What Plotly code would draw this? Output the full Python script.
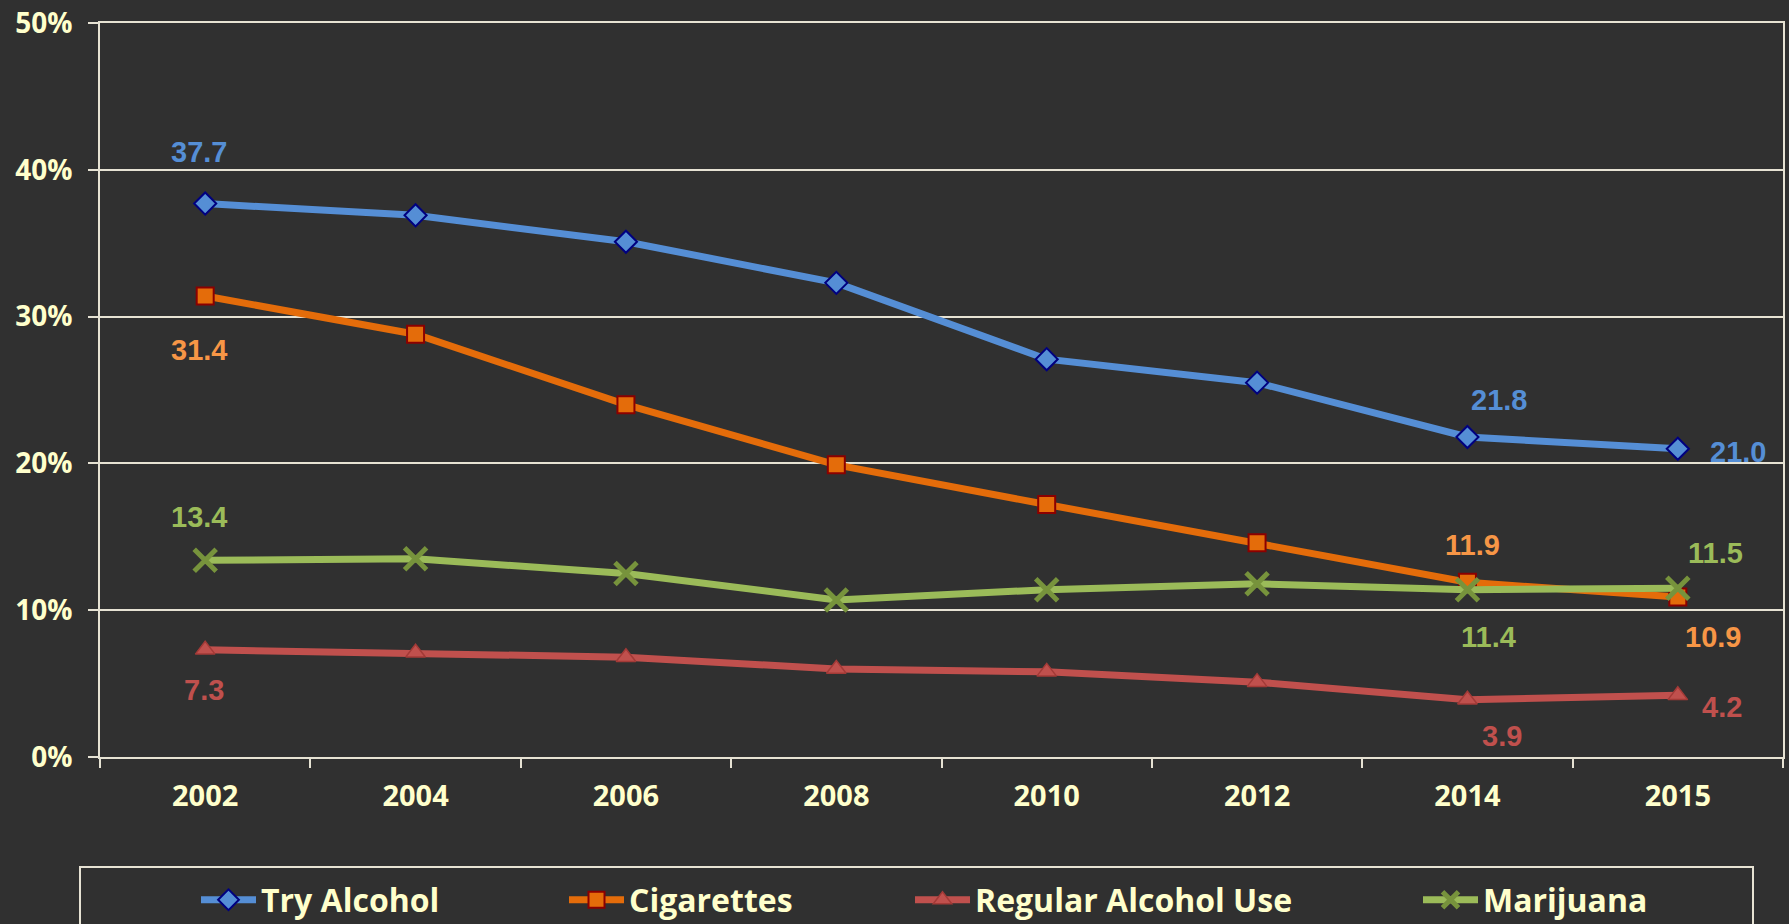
import plotly.graph_objects as go

years = ["2002", "2004", "2006", "2008", "2010", "2012", "2014", "2015"]
try_alcohol = [37.7, 36.9, 35.1, 32.3, 27.1, 25.5, 21.8, 21.0]
cigarettes = [31.4, 28.8, 24.0, 19.9, 17.2, 14.6, 11.9, 10.9]
regular_alcohol = [7.3, 7.1, 6.8, 6.0, 5.8, 5.1, 3.9, 4.2]
marijuana = [13.4, 13.5, 12.5, 10.7, 11.4, 11.8, 11.4, 11.5]
y_ticks = [0, 10, 20, 30, 40, 50]
y_tick_labels = ["0%", "10%", "20%", "30%", "40%", "50%"]

BG = "#303030"
CREAM = "#FFFFCC"
GRID = "#E6E2D3"
W, H = 1789, 924

series = [
    dict(name="Try Alcohol", y=try_alcohol, line="#558ED5", fill="#558ED5", edge="#00007F",
         symbol="diamond", size=17, lw=2, label="#558ED5"),
    dict(name="Cigarettes", y=cigarettes, line="#E46C0A", fill="#E46C0A", edge="#8B0000",
         symbol="square", size=17, lw=2, label="#F79646"),
    dict(name="Regular Alcohol Use", y=regular_alcohol, line="#C0504D", fill="#C0504D", edge="#A33A37",
         symbol="triangle-up", size=17, lw=1.5, label="#C0504D"),
    dict(name="Marijuana", y=marijuana, line="#9BBB59", fill="#77933C", edge="#77933C",
         symbol="x-thin", size=22, lw=5, label="#9BBB59"),
]

# data labels: (series index, category index, xshift, yshift) - placement only
label_specs = [
    (0, 0, -6, 52), (0, 6, 32, 37), (0, 7, 60, -3),
    (1, 0, -6, -54), (1, 6, 5, 37), (1, 7, 35, -40),
    (2, 0, -1, -40), (2, 6, 35, -36), (2, 7, 44, -12),
    (3, 0, -6, 43), (3, 6, 21, -47), (3, 7, 38, 35),
]

legend_text_px = [263, 631, 977, 1485]

fig = go.Figure()
for i, s in enumerate(series):
    fig.add_trace(go.Scatter(
        x=years, y=s["y"], name=s["name"], mode="lines+markers",
        line=dict(color=s["line"], width=7),
        marker=dict(symbol=s["symbol"], size=s["size"], color=s["fill"],
                    line=dict(color=s["edge"], width=s["lw"])),
        legend="legend" if i == 0 else f"legend{i+1}",
        cliponaxis=False,
    ))

annotations = []
for si, ci, dx, dy in label_specs:
    s = series[si]
    annotations.append(dict(
        x=ci, y=s["y"][ci], xref="x", yref="y",
        text=f"{s['y'][ci]:.1f}", showarrow=False,
        xshift=dx, yshift=dy,
        font=dict(family="Liberation Sans, Arial, sans-serif", size=29, color=s["label"], weight="bold"),
    ))

legend_common = dict(
    orientation="h", xref="container", yref="container",
    xanchor="left", yanchor="middle",
    bgcolor="rgba(0,0,0,0)", borderwidth=0,
    font=dict(family="Open Sans, sans-serif", size=32, color=CREAM, weight="bold"),
    itemwidth=55,
)
legends = {}
for i, px in enumerate(legend_text_px):
    key = "legend" if i == 0 else f"legend{i+1}"
    legends[key] = dict(legend_common, x=(px - 67) / W, y=1 - 900 / H)

# plot area in pixels: left 100, right 1783, top 23, bottom 757
pl, pr, pt, pb = 100, 1783, 23, 757
fig.update_layout(
    width=W, height=H,
    paper_bgcolor=BG, plot_bgcolor=BG,
    margin=dict(l=pl, r=W - pr, t=pt, b=H - pb, autoexpand=False),
    showlegend=True,
    annotations=annotations,
    shapes=[dict(type="rect", xref="paper", yref="paper",
                 x0=(80 - pl) / (pr - pl), x1=(1753 - pl) / (pr - pl),
                 y0=(pb - 960) / (pb - pt), y1=(pb - 867) / (pb - pt),
                 line=dict(color=GRID, width=2), fillcolor="rgba(0,0,0,0)", layer="below")],
    **legends,
)
fig.update_xaxes(
    type="category", range=[-0.5, len(years) - 0.5],
    showline=True, linecolor=GRID, linewidth=2, mirror=True,
    showgrid=False, ticks="outside", tickson="boundaries", ticklen=9, tickwidth=2, tickcolor=GRID,
    tickfont=dict(family="Open Sans, sans-serif", size=29, color=CREAM, weight="bold"),
    ticklabelstandoff=12, ticklabeloverflow="allow", automargin=False,
)
fig.update_yaxes(
    range=[0, 50], tickmode="array", tickvals=y_ticks, ticktext=y_tick_labels,
    showline=True, linecolor=GRID, linewidth=2, mirror=True,
    showgrid=True, gridcolor=GRID, gridwidth=2, zeroline=False,
    ticks="outside", ticklen=10, tickwidth=2, tickcolor=GRID,
    tickfont=dict(family="Open Sans, sans-serif", size=28, color=CREAM, weight="bold"),
    ticklabelstandoff=10, ticklabeloverflow="allow", automargin=False,
)

fig.write_html("out.html", config={"displayModeBar": False},
               post_script="document.body.style.margin='0';")
